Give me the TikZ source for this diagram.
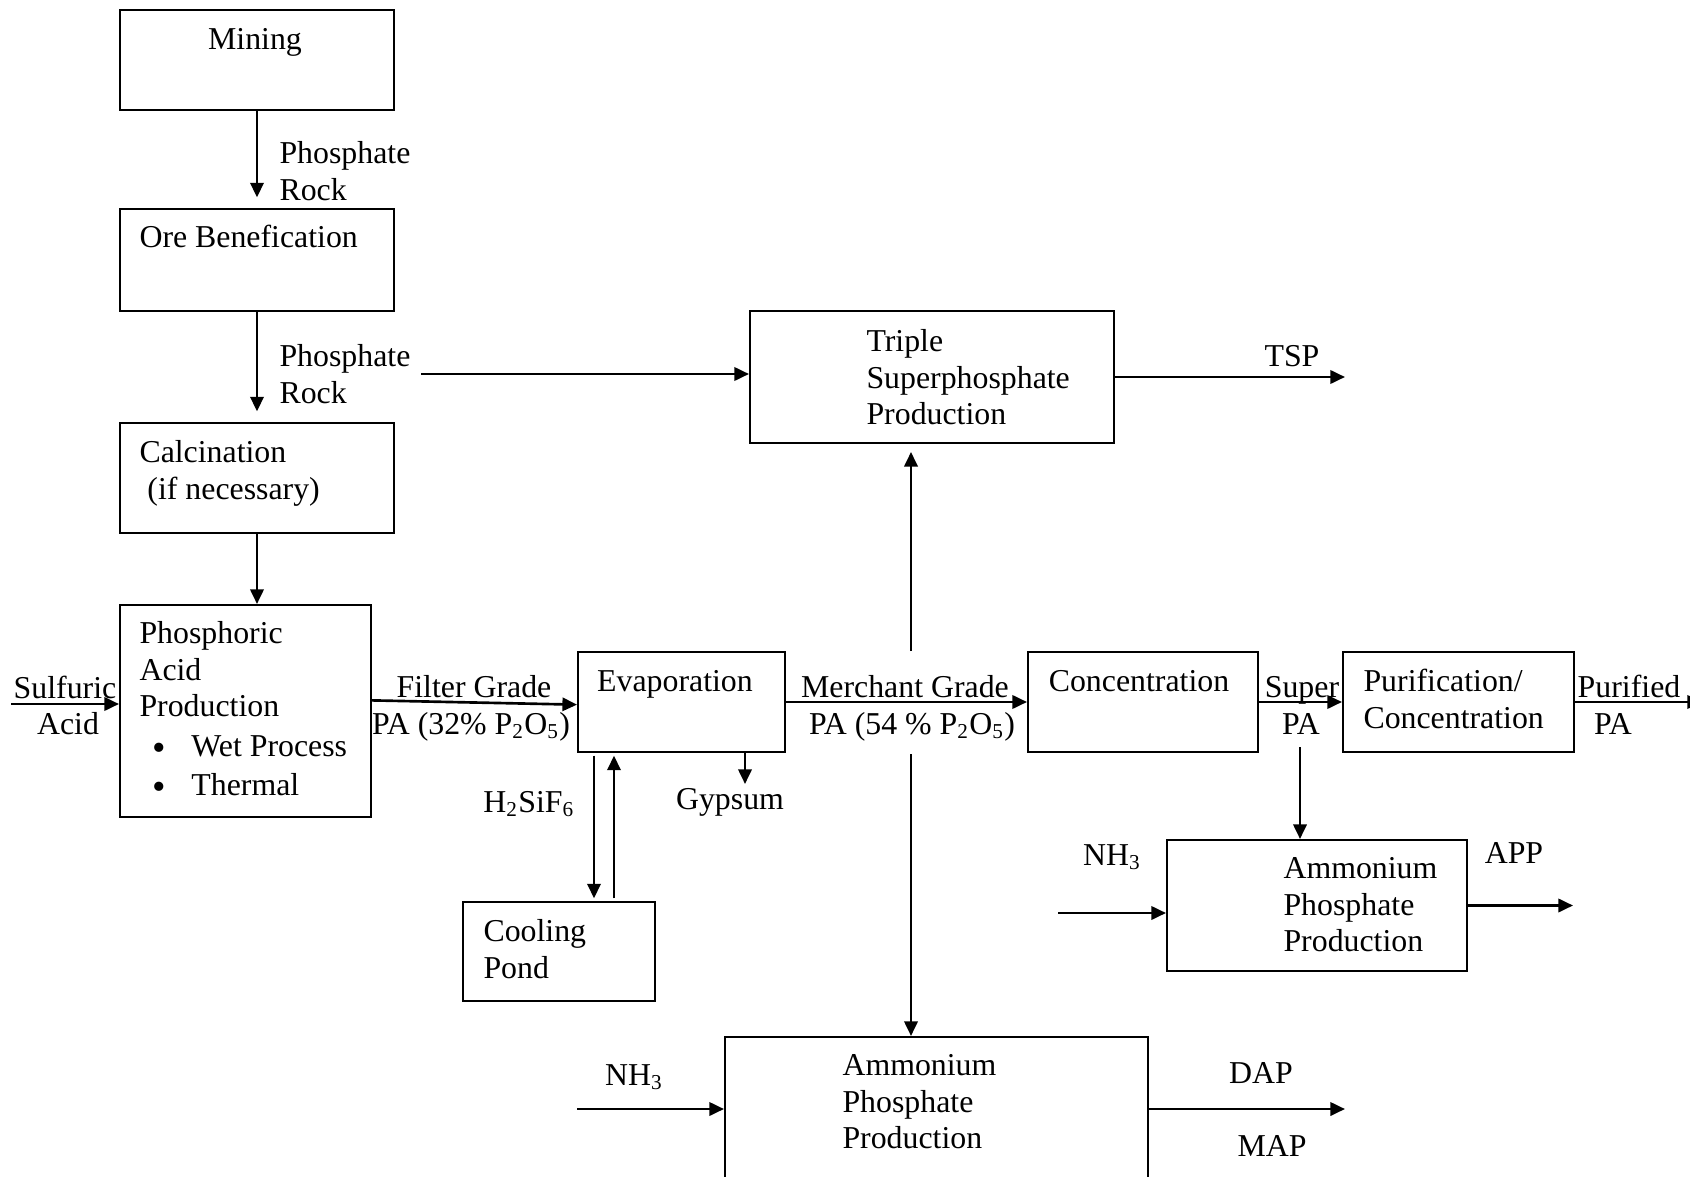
\documentclass[tikz,border=0pt]{standalone}
\usepackage{fontspec}
\setmainfont{Liberation Serif}
\usetikzlibrary{arrows.meta,positioning}

\newcommand{\bigdot}{\smash{\raisebox{-1.5pt}{\fontsize{14.5}{14.5}\selectfont\textbullet}}}

\begin{document}
\begin{tikzpicture}[x=0.377pt,y=-0.377pt,
  font=\fontsize{12}{13.8}\selectfont,
  blk/.style 2 args={draw,line width=0.75pt,anchor=north west,inner sep=0pt,
              minimum width=#1*0.377pt,minimum height=#2*0.377pt},
  txt/.style={inner sep=0pt,align=left},
  arr/.style={-{Triangle[length=5.5pt,width=5pt]},line width=1pt}]
  \useasboundingbox (0,0) rectangle (1690,1177);
  \clip (0,0) rectangle (1690,1177);
  % process boxes
  \node[blk={274}{100}] (mine) at (119,9) {};
  \node[blk={274}{102}] (ore) at (119,208) {};
  \node[blk={274}{110}] (calc) at (119,422) {};
  \node[blk={251}{212}] (phos) at (119,604) {};
  \node[blk={207}{100}] (evap) at (577,651) {};
  \node[blk={192}{99}] (pond) at (462,901) {};
  \node[blk={364}{132}] (tsp) at (749,310) {};
  \node[blk={230}{100}] (conc) at (1027,651) {};
  \node[blk={231}{100}] (puri) at (1342,651) {};
  \node[blk={300}{131}] (app) at (1166,839) {};
  \node[blk={423}{160}] (amp) at (724,1036) {};
  % box texts
  \node[txt,anchor=north] (mineT) at (255,28) {Mining};
  \node[txt,anchor=north west] (oreT) at (139,225) {Ore Benefication};
  \node[txt,anchor=north west] (calcT) at (139,440) {Calcination\\\hspace*{3pt}(if necessary)};
  \node[txt,anchor=north west] (phosT) at (139,621)
    {Phosphoric\\Acid\\Production\\[1.1pt]
     \hspace*{5pt}\bigdot\hspace{9.5pt}Wet Process\\[1pt]
     \hspace*{5pt}\bigdot\hspace{9.5pt}Thermal};
  \node[txt,anchor=base] (evapT) at (675,691) {Evaporation};
  \node[txt,anchor=north west] (pondT) at (483,919) {Cooling\\Pond};
  \node[txt,anchor=north west] (tspT) at (866,329) {Triple\\Superphosphate\\Production};
  \node[txt,anchor=base] (concT) at (1139,691) {Concentration};
  \node[txt,anchor=north west] (puriT) at (1363,669) {Purification/\\Concentration};
  \node[txt,anchor=north west] (appT) at (1283,857) {Ammonium\\Phosphate\\Production};
  \node[txt,anchor=north west] (ampT) at (842,1054) {Ammonium\\Phosphate\\Production};
  % stream labels
  \node[txt,anchor=north west] (rock1) at (279,141) {Phosphate\\Rock};
  \node[txt,anchor=north west] (rock2) at (279,344) {Phosphate\\Rock};
  \node[txt,anchor=base] (sulA) at (65,698) {Sulfuric};
  \node[txt,anchor=base] (sulB) at (68,734) {Acid};
  \node[txt,anchor=base] (filA) at (474,697) {Filter Grade};
  \node[txt,anchor=base] (filB) at (471,734) {PA (32\% P\textsubscript{2}O\textsubscript{5})};
  \node[txt,anchor=base] (gyp) at (730,809) {Gypsum};
  \node[txt,anchor=base] (hsf) at (529,812) {H\textsubscript{2}SiF\textsubscript{6}};
  \node[txt,anchor=base] (merA) at (905,697) {Merchant Grade};
  \node[txt,anchor=base] (merB) at (912,734) {PA (54 \% P\textsubscript{2}O\textsubscript{5})};
  \node[txt,anchor=base] (tspL) at (1292,366) {TSP};
  \node[txt,anchor=base] (supA) at (1302,697) {Super};
  \node[txt,anchor=base] (supB) at (1301,734) {PA};
  \node[txt,anchor=base] (pfdA) at (1629,697) {Purified};
  \node[txt,anchor=base] (pfdB) at (1613,734) {PA};
  \node[txt,anchor=base] (nhA) at (1112,865) {NH\textsubscript{3}};
  \node[txt,anchor=base] (appL) at (1514,863) {APP};
  \node[txt,anchor=base] (nhB) at (634,1085) {NH\textsubscript{3}};
  \node[txt,anchor=base] (dap) at (1261,1083) {DAP};
  \node[txt,anchor=base] (map) at (1272,1156) {MAP};
  % free ends
  \coordinate (prS) at (421,374);
  \coordinate (tspE) at (1345,376);
  \coordinate (sulS) at (11,704);
  \coordinate (purE) at (1702,701);
  \coordinate (gypE) at (745,784);
  \coordinate (hdn) at (594,0);
  \coordinate (hup) at (614,0);
  \coordinate (mgU) at (911,651);
  \coordinate (mgD) at (911,754);
  \coordinate (spD) at (1300,747);
  \coordinate (nh3A) at (1058,913);
  \coordinate (appE) at (1573,905);
  \coordinate (nh3B) at (577,1109);
  \coordinate (ampE) at (1345,1109);
  % connectors
  \draw[arr,shorten >=4pt] (mine) -- (ore);
  \draw[arr,shorten >=4pt] (ore) -- (calc);
  \draw[arr] (calc.south) -- (calc.south |- phos.north);
  \draw[arr] (prS) -- (prS -| tsp.west);
  \draw[arr] (tsp.east) -- (tsp.east -| tspE);
  \draw[arr] (sulS) -- (sulS -| phos.west);
  \draw[arr] ([yshift=4pt]phos.east) -- ([yshift=-1pt]evap.west);
  \draw[arr] (evap) -- (conc);
  \draw[arr] (conc) -- (puri);
  \draw[arr] (puri.east) -- (puri.east -| purE);
  \draw[arr] (evap.south -| gypE) -- (gypE);
  \draw[arr,shorten <=1pt,shorten >=1pt] (evap.south -| hdn) -- (pond.north -| hdn);
  \draw[arr,shorten <=1pt,shorten >=1pt] (pond.north -| hup) -- (evap.south -| hup);
  \draw[arr,shorten >=3pt] (mgU) -- (mgU |- tsp.south);
  \draw[arr] (mgD) -- (mgD |- amp.north);
  \draw[arr] (spD) -- (spD |- app.north);
  \draw[arr] (nh3A) -- (nh3A -| app.west);
  \draw[arr] (app.east) -- (app.east -| appE);
  \draw[arr] (nh3B) -- (nh3B -| amp.west);
  \draw[arr] (amp.east |- ampE) -- (ampE);
\end{tikzpicture}
\end{document}
